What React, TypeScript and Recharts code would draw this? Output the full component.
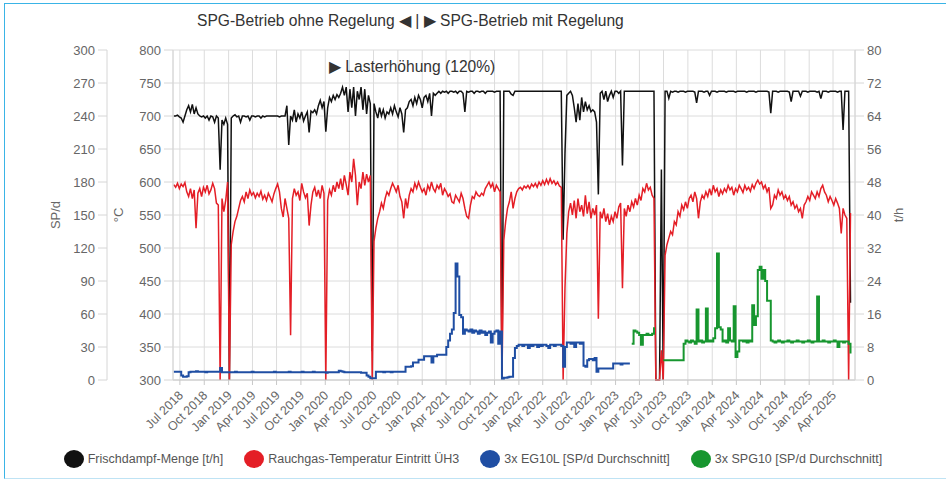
import React from "react";
import { LineChart, Line, XAxis, YAxis, CartesianGrid } from "recharts";

// weekly samples, first one on 8 Jun 2018
const seriesStart = Date.UTC(2018, 5, 8);
const WEEK = 7 * 24 * 3600 * 1000;

const quarterLabels = [
  "Jul 2018", "Oct 2018", "Jan 2019", "Apr 2019", "Jul 2019", "Oct 2019", "Jan 2020",
  "Apr 2020", "Jul 2020", "Oct 2020", "Jan 2021", "Apr 2021", "Jul 2021", "Oct 2021",
  "Jan 2022", "Apr 2022", "Jul 2022", "Oct 2022", "Jan 2023", "Apr 2023", "Jul 2023",
  "Oct 2023", "Jan 2024", "Apr 2024", "Jul 2024", "Oct 2024", "Jan 2025", "Apr 2025",
];

const spTicks = [0, 30, 60, 90, 120, 150, 180, 210, 240, 270, 300];
const tempTicks = [300, 350, 400, 450, 500, 550, 600, 650, 700, 750, 800];
const flowTicks = [0, 8, 16, 24, 32, 40, 48, 56, 64, 72, 80];

const seriesNames = [
  "Frischdampf-Menge [t/h]",
  "Rauchgas-Temperatur Eintritt ÜH3",
  "3x EG10L [SP/d Durchschnitt]",
  "3x SPG10 [SP/d Durchschnitt]",
];
const seriesColors = ["#111111", "#e41e26", "#1f4ea3", "#17962f"];

// Frischdampf-Menge [t/h]
const frischdampf = [
  64, 64, 64.2, 63.8, 63.5, 62.5, 64, 65.5, 66.5, 65,
  66.8, 64.5, 66, 64.5, 64, 63.8, 64, 63.5, 64, 63,
  64, 63.8, 62.5, 64, 63.5, 51, 63, 62, 63.5, 62,
  0, 63.5, 64, 64.3, 63.8, 64, 62.5, 64, 64, 63.8,
  64, 63, 64, 64, 63.8, 64, 64, 63.5, 64, 63.8,
  64, 64, 64, 64, 64, 64, 64, 63.8, 64, 64,
  64, 66.5, 57, 64, 63, 65.5, 62.5, 64.5, 63.5, 65,
  62.8, 64, 65, 60, 65.2, 64.8, 65.5, 64.5, 66.5, 67.8,
  66, 67.5, 60.2, 66, 68.5, 67.5, 69, 68, 69.2, 68.5,
  69.5, 71, 69, 71, 65, 70.5, 66, 71, 64, 70,
  68, 71, 65.5, 70.5, 64.5, 69, 67, 7, 67, 65,
  63.5, 66, 64, 65.5, 63.5, 65, 64.5, 66, 64.5, 66.5,
  65, 63.8, 66, 64.5, 60, 65.5, 66, 67.5, 68, 66.5,
  68.5, 67, 69, 68, 66, 68.5, 69, 67.5, 69.5, 64,
  69.5, 69, 69.5, 70, 69.5, 70, 69.8, 70, 69.5, 70,
  70, 69.8, 70, 69.5, 70, 70, 69.5, 65, 70, 69.8,
  70, 70, 69.5, 70, 70, 69.8, 70, 70, 69.5, 70,
  70, 70, 70, 69.8, 70, 70, 70, 0, 70, 70,
  70, 70, 69.3, 69, 70, 70, 70, 70, 70, 70,
  70, 70, 70, 70, 70, 70, 70, 70, 70, 70,
  70, 70, 70, 70, 70, 70, 70, 70, 70, 70,
  34, 55, 69, 69.5, 70, 69, 66, 62.5, 67, 63,
  68.5, 65, 67.5, 65.5, 66.5, 65, 65.5, 65, 62.5, 45,
  69.5, 70, 68, 70, 67.5, 69, 70, 68.5, 70, 70,
  69.5, 70, 52, 70, 70, 70, 70, 70, 70, 70,
  70, 70, 70, 70, 70, 70, 70, 70, 70, 70,
  0, 0, 0, 51, 0, 70, 70, 68.3, 70, 69.8,
  70, 70, 69.8, 70, 70, 70, 69.8, 70, 70, 70,
  70, 69.8, 67.2, 70, 70, 70, 69.8, 70, 70, 69,
  70, 70, 70, 69.8, 70, 70, 70, 70, 69.8, 70,
  70, 70, 70, 69.8, 70, 70, 70, 70, 70, 69.8,
  70, 70, 70, 70, 69.8, 70, 70, 70, 70, 70,
  70, 69.8, 64.7, 70, 70, 70, 69.8, 70, 70, 70,
  70, 70, 69.8, 67.5, 70, 70, 70, 70, 68.8, 70,
  70, 70, 69.8, 70, 70, 70, 70, 69.8, 70, 68.2,
  70, 70, 70, 69.8, 70, 70, 70, 70, 69.8, 70,
  70, 60.6, 70, 70, 70, 18.7,
];

// Rauchgas-Temperatur Eintritt ÜH3 [°C]
const rauchgas = [
  596, 592, 598, 590, 597, 593, 599, 585, 578, 590,
  575, 588, 530, 583, 590, 578, 592, 585, 595, 582,
  588, 598, 590, 568, 565, 300, 575, 555, 572, 600,
  300, 505, 525, 540, 548, 560, 572, 578, 570, 585,
  575, 588, 580, 584, 576, 583, 578, 586, 574, 580,
  572, 583, 577, 570, 582, 590, 597, 585, 560, 547,
  575, 560, 545, 368, 575, 590, 580, 585, 572, 598,
  585, 576, 583, 534, 565, 585, 592, 578, 588, 575,
  595, 583, 300, 572, 588, 580, 595, 585, 600, 590,
  605, 588, 610, 596, 580, 615, 600, 635, 610, 565,
  600, 590, 615, 595, 612, 600, 610, 300, 510, 530,
  545, 555, 568, 560, 575, 585, 580, 590, 598, 592,
  585, 595, 578, 570, 545, 575, 560, 580, 590, 585,
  598, 590, 600, 592, 585, 590, 580, 595, 588, 600,
  590, 585, 595, 590, 598, 580, 590, 585, 578, 582,
  570, 568, 580, 575, 570, 583, 575, 560, 548, 545,
  565, 578, 575, 585, 580, 578, 583, 580, 590, 595,
  600, 592, 598, 585, 595, 590, 585, 300, 512, 540,
  560, 570, 585, 560, 575, 585, 590, 592, 588, 594,
  591, 595, 590, 597, 593, 598, 592, 600, 595, 602,
  596, 604, 597, 605, 598, 602, 596, 600, 594, 592,
  300, 440, 522, 555, 568, 550, 572, 545, 575, 555,
  565, 548, 580, 552, 570, 545, 560, 550, 565, 393,
  555, 545, 560, 540, 552, 535, 548, 540, 555, 545,
  562, 568, 439, 560, 548, 565, 555, 570, 562, 575,
  565, 580, 572, 590, 585, 598, 588, 592, 580, 575,
  300, 300, 300, 345, 300, 489, 505, 515, 525, 520,
  540, 535, 555, 548, 565, 558, 570, 560, 575, 580,
  570, 585, 575, 545, 570, 580, 575, 585, 578, 590,
  580, 595, 585, 590, 578, 588, 582, 590, 585, 595,
  588, 592, 580, 590, 585, 595, 590, 584, 595, 588,
  592, 586, 596, 590, 598, 603, 597, 600, 590, 595,
  585, 592, 560, 565, 580, 575, 588, 580, 585, 575,
  580, 572, 578, 565, 570, 560, 565, 555, 560, 545,
  565, 570, 578, 572, 585, 580, 575, 585, 578, 590,
  595, 585, 580, 570, 578, 572, 565, 575, 568, 560,
  522, 560, 550, 545, 300, 553,
];

// 3x EG10L [SP/d], from the first week on
const eg10l = [
  7.6, 7.6, 7.6, 7.6, 4, 3, 3, 3.5, 7, 7.5,
  7.5, 7.5, 8, 7.5, 7.5, 7.5, 7.5, 7, 7.5, 7.5,
  7.5, 7.5, 7.5, 7.5, 7.5, 11, 7, 7, 7, 7,
  7, 7, 7, 7.5, 7, 7, 7, 7, 7, 7,
  7, 7, 7.5, 7, 7, 7, 7, 7, 7, 7,
  7, 7, 7, 7, 7.5, 7, 7, 7, 7, 7,
  7, 7, 7.5, 7, 7, 7, 7, 7, 7, 7.5,
  7, 7, 7, 7, 7, 7.5, 7, 7, 7, 7,
  7, 7, 6.5, 7, 7, 7, 7, 7, 7, 8.5,
  8, 7.5, 7, 7, 7, 7, 7, 7, 7, 7,
  7, 6.5, 6.5, 6.5, 4, 3, 1.5, 1.5, 1.5, 7.5,
  7.5, 7.5, 7.5, 7, 7.5, 7.5, 7.5, 7, 7.5, 7.5,
  7.5, 7.5, 7.5, 7.5, 7.5, 12, 12, 12, 12.5, 16,
  16, 16, 18.5, 18.5, 18.5, 21.5, 21.5, 21.5, 21.5, 16,
  21.5, 21.5, 23, 23, 23, 23, 23, 30, 36, 42,
  46, 61, 106, 94, 59, 57, 42, 46, 45, 44,
  46, 43, 45, 44, 42, 45, 43, 44, 41, 43,
  44, 34, 42, 44, 45, 33, 44, 1, 2, 2,
  2.5, 3, 3, 20, 29, 31, 32, 32, 31, 32,
  32, 29, 32, 31, 32, 32, 30, 32, 31, 32,
  32, 31, 29, 32, 32, 31, 32, 32, 32, 31,
  12, 30, 34, 34, 33, 34, 30, 34, 34, 33,
  34, 13, 12, 18, 19, 19, 18, 20, 7.5, 10.5,
  10.5, 10.5, 10.5, 10.5, 10.5, 10.5, 10.5, 15, 15, 15,
  15, 14, 15, 15, 15, 15, 15,
];

// 3x SPG10 [SP/d], starts in week 247 (Apr 2023)
const spg10FirstWeek = 247;
const spg10 = [
  33, 45, 44,
  43, 41, 32, 41, 41, 42, 41, 41, 42, 48,
  null, null, null, null,
  18, 18, 18, 18, 18, 18,
  18, 18, 18, 18, 18, 33, 36, 35, 34, 36,
  35, 33, 64, 35, 36, 34, 35, 65, 35, 36,
  35, 38, 47, 115, 48, 46, 35, 36, 34, 47,
  36, 35, 67, 21, 26, 36, 36, 35, 36, 34,
  36, 35, 68, 50, 58, 100, 103, 92, 100, 90,
  72, 72, 36, 35, 34, 35, 36, 35, 34, 35,
  35, 36, 35, 34, 35, 35, 36, 35, 35, 34,
  35, 35, 36, 35, 34, 35, 35, 76, 35, 35,
  36, 35, 35, 34, 35, 35, 36, 35, 30, 35,
  35, 34, 35, 35, 33, 24,
];

const monthIndex: Record<string, number> = { Jan: 0, Apr: 3, Jul: 6, Oct: 9 };
const quarterTicks = quarterLabels.map((l) => {
  const [m, y] = l.split(" ");
  return Date.UTC(Number(y), monthIndex[m], 1);
});
const labelByTick: Record<number, string> = {};
quarterTicks.forEach((t, i) => (labelByTick[t] = quarterLabels[i]));

const rows = frischdampf.map((v, i) => {
  const g = i - spg10FirstWeek;
  return {
    t: seriesStart + i * WEEK,
    dampf: v,
    temp: rauchgas[i],
    eg: i < eg10l.length ? eg10l[i] : null,
    spg: g >= 0 && g < spg10.length ? spg10[g] : null,
  };
});

const font = "'Liberation Sans', Arial, sans-serif";
const tickStyle = { fill: "#666", fontSize: 13, fontFamily: font };

const DateTick = (props: any) => {
  const { x, y, payload } = props;
  const px = x + 4;
  const py = y + 9;
  return (
    <text
      x={px}
      y={py}
      transform={`rotate(-45 ${px} ${py})`}
      textAnchor="end"
      fill="#666"
      fontSize={12.5}
      fontFamily={font}
    >
      {labelByTick[payload.value]}
    </text>
  );
};

const axisTitle = (text: string, dx: number) => (props: any) => {
  const vb = props.viewBox || { x: 0, y: 0, width: 0, height: 0 };
  const cx = vb.x + dx;
  const cy = vb.y + vb.height / 2;
  return (
    <text
      x={cx}
      y={cy}
      transform={`rotate(-90 ${cx} ${cy})`}
      textAnchor="middle"
      dominantBaseline="central"
      fill="#666"
      fontSize={13}
      fontFamily={font}
    >
      {text}
    </text>
  );
};

export default function App() {
  return (
    <div style={{ position: "absolute", left: 0, top: 0, width: 946, height: 480, background: "#fff", overflow: "hidden" }}>
      <div
        style={{
          position: "absolute",
          left: 4,
          top: 3,
          width: 960,
          height: 474,
          borderTop: "1.5px solid #3ab4e6",
          borderLeft: "1.5px solid #3ab4e6",
          borderBottom: "1px solid #bfe3f4",
        }}
      />
      <div
        style={{
          position: "absolute",
          left: 197,
          top: 12,
          fontFamily: font,
          fontSize: 15.6,
          color: "#333",
          whiteSpace: "nowrap",
        }}
      >
        SPG-Betrieb ohne Regelung ◀ | ▶ SPG-Betrieb mit Regelung
      </div>
      <LineChart width={946} height={480} data={rows} margin={{ top: 50, right: 31, bottom: 40, left: 20 }}>
        <CartesianGrid stroke="#dcdcdc" yAxisId="celsius" />
        <XAxis
          dataKey="t"
          type="number"
          domain={[Date.UTC(2018, 5, 5), Date.UTC(2025, 5, 23)]}
          ticks={quarterTicks}
          tick={<DateTick />}
          interval={0}
          height={60}
          stroke="#c8c8c8"
          tickSize={5}
          allowDataOverflow
        />
        <YAxis
          yAxisId="celsius"
          orientation="left"
          width={66}
          domain={[300, 800]}
          ticks={tempTicks}
          interval={0}
          tick={tickStyle}
          tickSize={9}
          tickMargin={3}
          stroke="#d6d6d6"
          label={{ content: axisTitle("°C", 11) }}
        />
        <YAxis
          yAxisId="spd"
          orientation="left"
          width={87}
          domain={[0, 300]}
          ticks={spTicks}
          interval={0}
          tick={tickStyle}
          tickSize={9}
          tickMargin={3}
          stroke="#d6d6d6"
          label={{ content: axisTitle("SP/d", 35) }}
        />
        <YAxis
          yAxisId="tph"
          orientation="right"
          width={60}
          domain={[0, 80]}
          ticks={flowTicks}
          interval={0}
          tick={tickStyle}
          tickSize={9}
          tickMargin={3}
          stroke="#d6d6d6"
          label={{ content: axisTitle("t/h", 43) }}
        />
        <Line yAxisId="tph" dataKey="dampf" name={seriesNames[0]} stroke={seriesColors[0]} strokeWidth={1.5} dot={false} isAnimationActive={false} />
        <Line yAxisId="celsius" dataKey="temp" name={seriesNames[1]} stroke={seriesColors[1]} strokeWidth={1.5} dot={false} isAnimationActive={false} />
        <Line yAxisId="spd" type="stepAfter" dataKey="eg" name={seriesNames[2]} stroke={seriesColors[2]} strokeWidth={2} dot={false} isAnimationActive={false} />
        <Line yAxisId="spd" type="stepAfter" dataKey="spg" name={seriesNames[3]} stroke={seriesColors[3]} strokeWidth={2} dot={false} isAnimationActive={false} />
      </LineChart>
      <div
        style={{
          position: "absolute",
          left: 329,
          top: 58,
          fontFamily: font,
          fontSize: 15.6,
          color: "#333",
          whiteSpace: "nowrap",
        }}
      >
        ▶ Lasterhöhung (120%)
      </div>
      <div
        style={{
          position: "absolute",
          left: 0,
          top: 450,
          width: 946,
          display: "flex",
          justifyContent: "center",
          alignItems: "center",
          gap: 21,
          fontFamily: font,
          fontSize: 12.5,
          color: "#555",
        }}
      >
        {seriesNames.map((n, i) => (
          <div key={n} style={{ display: "flex", alignItems: "center" }}>
            <span
              style={{
                display: "inline-block",
                width: 20,
                height: 18,
                borderRadius: "50%",
                background: seriesColors[i],
                marginRight: 4,
              }}
            />
            {n}
          </div>
        ))}
      </div>
    </div>
  );
}
